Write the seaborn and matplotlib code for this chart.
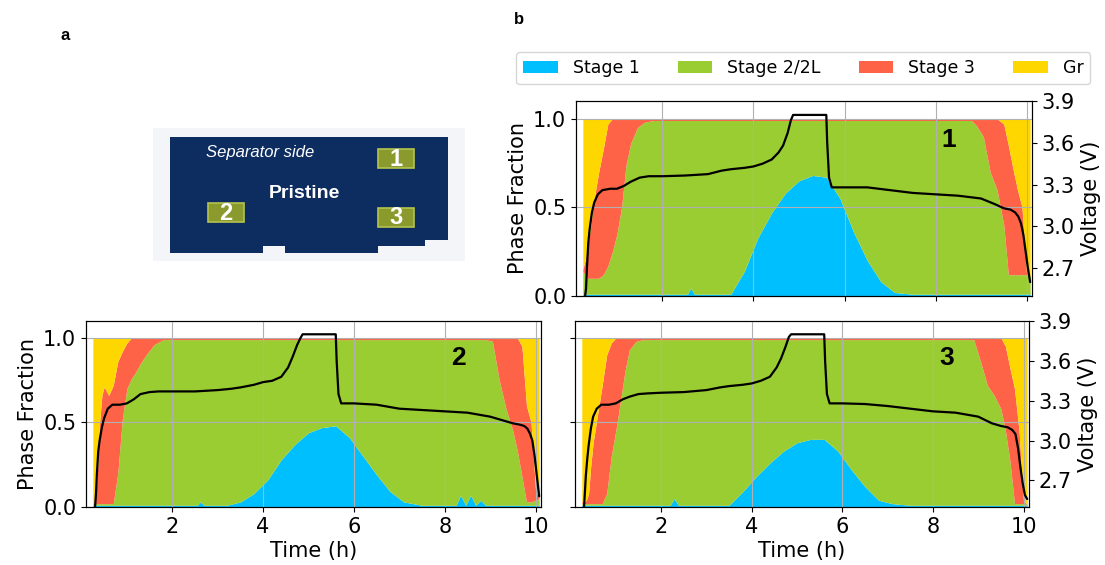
import matplotlib
matplotlib.use("Agg")
import matplotlib.pyplot as plt
from matplotlib.patches import Rectangle, Polygon
import seaborn as sns

# ---- data -------------------------------------------------------------
# time grid of the phase fractions (h)
t_phase = [0.25, 0.30, 0.35, 0.40, 0.45, 0.50, 0.60, 0.70, 0.80, 0.90,
           1.00, 1.10, 1.20, 1.30, 1.45, 1.60, 1.80, 2.20, 2.29, 2.38,
           2.55, 2.62, 2.70, 3.20, 3.50, 3.80, 4.10, 4.40, 4.70, 5.00,
           5.30, 5.60, 5.90, 6.20, 6.50, 6.80, 7.10, 7.50, 8.25, 8.35,
           8.46, 8.57, 8.68, 8.79, 8.90, 9.05, 9.20, 9.35, 9.50, 9.60,
           9.70, 9.80, 9.90, 10.00, 10.08]

stage_names = ["Stage 1", "Stage 2/2L", "Stage 3", "Gr"]
stage_colors = ["deepskyblue", "yellowgreen", "tomato", "gold"]

# position 1
stage1_p1 = [0.01, 0.01, 0.01, 0.01, 0.01, 0.01, 0.01, 0.01, 0.01, 0.01,
             0.01, 0.01, 0.01, 0.01, 0.01, 0.01, 0.01, 0.01, 0.01, 0.01,
             0.01, 0.045, 0.01, 0.01, 0.01, 0.14, 0.33, 0.47, 0.58, 0.65,
             0.68, 0.67, 0.55, 0.36, 0.20, 0.08, 0.02, 0.01, 0.01, 0.01,
             0.01, 0.01, 0.01, 0.01, 0.01, 0.01, 0.01, 0.01, 0.01, 0.01,
             0.01, 0.01, 0.01, 0.01, 0.01]
stage2_p1 = [0.13, 0.11, 0.09, 0.09, 0.09, 0.09, 0.09, 0.11, 0.16, 0.24,
             0.34, 0.49, 0.73, 0.85, 0.94, 0.97, 0.98, 0.98, 0.98, 0.98,
             0.98, 0.945, 0.98, 0.98, 0.98, 0.85, 0.66, 0.52, 0.41, 0.34,
             0.31, 0.32, 0.44, 0.63, 0.79, 0.91, 0.97, 0.98, 0.98, 0.98,
             0.98, 0.98, 0.98, 0.98, 0.95, 0.89, 0.69, 0.59, 0.39, 0.11,
             0.11, 0.11, 0.11, 0.11, 0.10]
stage3_p1 = [0.01, 0.08, 0.17, 0.25, 0.35, 0.45, 0.60, 0.71, 0.80, 0.75,
             0.65, 0.50, 0.26, 0.14, 0.05, 0.02, 0.01, 0.01, 0.01, 0.01,
             0.01, 0.01, 0.01, 0.01, 0.01, 0.01, 0.01, 0.01, 0.01, 0.01,
             0.01, 0.01, 0.01, 0.01, 0.01, 0.01, 0.01, 0.01, 0.01, 0.01,
             0.01, 0.01, 0.01, 0.01, 0.04, 0.10, 0.30, 0.40, 0.57, 0.73,
             0.60, 0.48, 0.38, 0.01, 0.00]
gr_p1 = [0.85, 0.80, 0.73, 0.65, 0.55, 0.45, 0.30, 0.17, 0.03, 0.00,
         0.00, 0.00, 0.00, 0.00, 0.00, 0.00, 0.00, 0.00, 0.00, 0.00,
         0.00, 0.00, 0.00, 0.00, 0.00, 0.00, 0.00, 0.00, 0.00, 0.00,
         0.00, 0.00, 0.00, 0.00, 0.00, 0.00, 0.00, 0.00, 0.00, 0.00,
         0.00, 0.00, 0.00, 0.00, 0.00, 0.00, 0.00, 0.00, 0.03, 0.15,
         0.28, 0.40, 0.50, 0.87, 0.89]

# position 2
stage1_p2 = [0.01, 0.01, 0.01, 0.01, 0.01, 0.01, 0.01, 0.01, 0.01, 0.01,
             0.01, 0.01, 0.01, 0.01, 0.01, 0.01, 0.01, 0.01, 0.01, 0.01,
             0.01, 0.03, 0.01, 0.01, 0.03, 0.08, 0.16, 0.28, 0.37, 0.44,
             0.47, 0.48, 0.41, 0.30, 0.19, 0.09, 0.03, 0.01, 0.01, 0.07,
             0.01, 0.07, 0.01, 0.04, 0.01, 0.01, 0.01, 0.01, 0.01, 0.01,
             0.01, 0.01, 0.01, 0.01, 0.01]
stage2_p2 = [0.01, 0.01, 0.01, 0.01, 0.01, 0.01, 0.01, 0.01, 0.19, 0.51,
             0.69, 0.75, 0.79, 0.84, 0.90, 0.95, 0.98, 0.98, 0.98, 0.98,
             0.98, 0.96, 0.98, 0.98, 0.96, 0.91, 0.83, 0.71, 0.62, 0.55,
             0.52, 0.51, 0.58, 0.69, 0.80, 0.90, 0.96, 0.98, 0.98, 0.92,
             0.98, 0.92, 0.98, 0.95, 0.98, 0.97, 0.74, 0.57, 0.44, 0.32,
             0.17, 0.02, 0.02, 0.03, 0.04]
stage3_p2 = [0.00, 0.01, 0.18, 0.48, 0.64, 0.69, 0.64, 0.70, 0.66, 0.40,
             0.27, 0.24, 0.20, 0.15, 0.09, 0.04, 0.01, 0.01, 0.01, 0.01,
             0.01, 0.01, 0.01, 0.01, 0.01, 0.01, 0.01, 0.01, 0.01, 0.01,
             0.01, 0.01, 0.01, 0.01, 0.01, 0.01, 0.01, 0.01, 0.01, 0.01,
             0.01, 0.01, 0.01, 0.01, 0.01, 0.02, 0.25, 0.42, 0.55, 0.67,
             0.77, 0.57, 0.47, 0.06, 0.00]
gr_p2 = [0.98, 0.97, 0.80, 0.50, 0.34, 0.29, 0.34, 0.28, 0.14, 0.08,
         0.03, 0.00, 0.00, 0.00, 0.00, 0.00, 0.00, 0.00, 0.00, 0.00,
         0.00, 0.00, 0.00, 0.00, 0.00, 0.00, 0.00, 0.00, 0.00, 0.00,
         0.00, 0.00, 0.00, 0.00, 0.00, 0.00, 0.00, 0.00, 0.00, 0.00,
         0.00, 0.00, 0.00, 0.00, 0.00, 0.00, 0.00, 0.00, 0.00, 0.00,
         0.05, 0.40, 0.50, 0.90, 0.95]

# position 3
stage1_p3 = [0.01, 0.01, 0.01, 0.01, 0.01, 0.01, 0.01, 0.01, 0.01, 0.01,
             0.01, 0.01, 0.01, 0.01, 0.01, 0.01, 0.01, 0.01, 0.05, 0.01,
             0.01, 0.01, 0.01, 0.01, 0.01, 0.09, 0.18, 0.26, 0.33, 0.38,
             0.40, 0.40, 0.33, 0.22, 0.12, 0.04, 0.02, 0.01, 0.01, 0.01,
             0.01, 0.01, 0.01, 0.01, 0.01, 0.01, 0.01, 0.01, 0.01, 0.01,
             0.01, 0.01, 0.01, 0.01, 0.01]
stage2_p3 = [0.01, 0.01, 0.01, 0.01, 0.01, 0.01, 0.01, 0.01, 0.07, 0.29,
             0.44, 0.61, 0.79, 0.92, 0.97, 0.98, 0.98, 0.98, 0.94, 0.98,
             0.98, 0.98, 0.98, 0.98, 0.98, 0.90, 0.81, 0.73, 0.66, 0.61,
             0.59, 0.59, 0.66, 0.77, 0.87, 0.95, 0.97, 0.98, 0.98, 0.98,
             0.98, 0.98, 0.98, 0.98, 0.98, 0.85, 0.71, 0.65, 0.57, 0.44,
             0.26, 0.01, 0.01, 0.01, 0.01]
stage3_p3 = [0.01, 0.01, 0.02, 0.06, 0.23, 0.36, 0.53, 0.70, 0.82, 0.67,
             0.55, 0.38, 0.20, 0.07, 0.02, 0.01, 0.01, 0.01, 0.01, 0.01,
             0.01, 0.01, 0.01, 0.01, 0.01, 0.01, 0.01, 0.01, 0.01, 0.01,
             0.01, 0.01, 0.01, 0.01, 0.01, 0.01, 0.01, 0.01, 0.01, 0.01,
             0.01, 0.01, 0.01, 0.01, 0.01, 0.14, 0.28, 0.34, 0.42, 0.50,
             0.55, 0.68, 0.43, 0.01, 0.00]
gr_p3 = [0.97, 0.97, 0.96, 0.92, 0.75, 0.62, 0.45, 0.28, 0.10, 0.03,
         0.00, 0.00, 0.00, 0.00, 0.00, 0.00, 0.00, 0.00, 0.00, 0.00,
         0.00, 0.00, 0.00, 0.00, 0.00, 0.00, 0.00, 0.00, 0.00, 0.00,
         0.00, 0.00, 0.00, 0.00, 0.00, 0.00, 0.00, 0.00, 0.00, 0.00,
         0.00, 0.00, 0.00, 0.00, 0.00, 0.00, 0.00, 0.00, 0.00, 0.05,
         0.18, 0.30, 0.55, 0.97, 0.98]

# voltage profiles (h, V)
t_volt = [0.30, 0.32, 0.34, 0.37, 0.40, 0.45, 0.50, 0.58, 0.68, 0.85,
          1.00, 1.15, 1.30, 1.50, 1.70, 2.00, 2.50, 3.00, 3.30, 3.50,
          3.80, 4.00, 4.20, 4.40, 4.55, 4.65, 4.75, 4.82, 4.87, 5.60,
          5.62, 5.66, 5.72, 6.00, 6.50, 7.00, 7.50, 8.00, 8.50, 9.00,
          9.30, 9.50, 9.65, 9.75, 9.82, 9.88, 9.93, 9.98, 10.03, 10.08]
volt_p1 = [2.50, 2.55, 2.70, 2.88, 2.98, 3.10, 3.17, 3.23, 3.26, 3.27,
           3.27, 3.29, 3.32, 3.35, 3.36, 3.36, 3.365, 3.375, 3.40, 3.41,
           3.42, 3.43, 3.45, 3.48, 3.53, 3.58, 3.67, 3.76, 3.80, 3.80,
           3.60, 3.35, 3.28, 3.28, 3.28, 3.26, 3.24, 3.23, 3.22, 3.20,
           3.16, 3.13, 3.12, 3.10, 3.07, 3.02, 2.94, 2.82, 2.70, 2.60]
volt_p2 = [2.50, 2.60, 2.75, 2.92, 3.00, 3.10, 3.17, 3.24, 3.27, 3.27,
           3.28, 3.31, 3.35, 3.365, 3.37, 3.37, 3.37, 3.38, 3.39, 3.40,
           3.42, 3.44, 3.45, 3.48, 3.55, 3.63, 3.72, 3.77, 3.80, 3.80,
           3.60, 3.35, 3.28, 3.28, 3.27, 3.24, 3.23, 3.22, 3.21, 3.18,
           3.15, 3.13, 3.12, 3.11, 3.09, 3.05, 3.00, 2.88, 2.73, 2.58]
volt_p3 = [2.50, 2.62, 2.74, 2.86, 2.96, 3.09, 3.18, 3.24, 3.27, 3.27,
           3.28, 3.31, 3.33, 3.35, 3.355, 3.36, 3.365, 3.38, 3.40, 3.41,
           3.42, 3.43, 3.45, 3.48, 3.55, 3.62, 3.71, 3.78, 3.80, 3.80,
           3.60, 3.35, 3.28, 3.28, 3.275, 3.26, 3.24, 3.22, 3.21, 3.18,
           3.13, 3.11, 3.10, 3.08, 3.05, 2.94, 2.80, 2.68, 2.59, 2.56]

# ---- style ------------------------------------------------------------
sns.set_style("ticks")
plt.rcParams["font.family"] = ["DejaVu Sans"]
plt.rcParams["axes.edgecolor"] = "black"
plt.rcParams["xtick.color"] = "black"
plt.rcParams["ytick.color"] = "black"
plt.rcParams["text.color"] = "black"
plt.rcParams["axes.labelcolor"] = "black"

W, H = 1105, 565
fig = plt.figure(figsize=(W / 100, H / 100), dpi=100)

# ---- panel a: schematic (figure pixel coords) -------------------------
bg = fig.add_axes([0, 0, 1, 1])
bg.set_xlim(0, W)
bg.set_ylim(H, 0)
bg.axis("off")

navy = "#0d2c5f"
bg.add_patch(Rectangle((153, 128), 312, 133, color="#f3f5f9", lw=0))
bg.add_patch(Polygon([(170, 137), (448, 137), (448, 240), (425, 240), (425, 246),
                      (378, 246), (378, 253), (285, 253), (285, 246), (263, 246),
                      (263, 253), (170, 253)], closed=True, color=navy, lw=0))
for (x0, y0, lab) in [(378, 149, "1"), (208, 203, "2"), (378, 208, "3")]:
    bg.add_patch(Rectangle((x0, y0), 36, 19, facecolor="#8b9a2c",
                           edgecolor="#b4c44e", lw=1.2))
    bg.text(x0 + 18, y0 + 10, lab, color="white", fontsize=17, fontweight="bold",
            family="Liberation Sans", ha="center", va="center")
bg.text(260, 152, "Separator side", color="white", fontsize=12, style="italic",
        family="Liberation Sans", ha="center", va="center")
bg.text(304, 193, "Pristine", color="white", fontsize=14, fontweight="bold",
        family="Liberation Sans", ha="center", va="center")
bg.text(65, 35, "a", fontsize=12, fontweight="bold", family="Liberation Sans",
        ha="center", va="center")
bg.text(519, 20, "b", fontsize=12, fontweight="bold", family="Liberation Sans",
        ha="center", va="center")


def px_rect(left, right, top, bottom):
    return [left / W, 1 - bottom / H, (right - left) / W, (bottom - top) / H]


def draw_panel(rect, fractions, volt, tag, show_left, show_bottom, show_right):
    ax = fig.add_axes(rect)
    ax.stackplot(t_phase, *fractions, colors=stage_colors, labels=stage_names,
                 linewidth=0)
    ax.set_xlim(0.1, 10.12)
    ax.set_ylim(0, 1.1)
    ax.set_xticks([2, 4, 6, 8, 10])
    ax.set_yticks([0.0, 0.5, 1.0])
    ax.grid(True, color="#b0b0b0", lw=0.8)
    ax.set_axisbelow(False)
    ax.tick_params(labelsize=15, labelleft=show_left, labelbottom=show_bottom)
    if show_left:
        ax.set_ylabel("Phase Fraction", fontsize=15)
    if show_bottom:
        ax.set_xlabel("Time (h)", fontsize=15, labelpad=3)
    ax.text(8.3, 0.88, tag, fontsize=19, fontweight="bold", family="Liberation Sans",
            ha="center", va="center")

    ax2 = ax.twinx()
    sns.lineplot(x=t_volt, y=volt, ax=ax2, color="black", lw=1.6)
    ax2.set_xlim(0.1, 10.12)
    ax2.set_ylim(2.5, 3.9)
    if show_right:
        ax2.set_yticks([2.7, 3.0, 3.3, 3.6, 3.9])
        ax2.tick_params(labelsize=15)
        ax2.set_ylabel("Voltage (V)", fontsize=15)
    else:
        ax2.set_yticks([])
        ax2.set_ylabel("")
    return ax


ax1 = draw_panel(px_rect(576, 1032, 101, 296),
                 [stage1_p1, stage2_p1, stage3_p1, gr_p1], volt_p1, "1",
                 True, False, True)
draw_panel(px_rect(86, 541, 321, 507),
           [stage1_p2, stage2_p2, stage3_p2, gr_p2], volt_p2, "2",
           True, True, False)
draw_panel(px_rect(575, 1029, 321, 507),
           [stage1_p3, stage2_p3, stage3_p3, gr_p3], volt_p3, "3",
           False, True, True)

handles, labels = ax1.get_legend_handles_labels()
fig.legend(handles, labels, loc="center", bbox_to_anchor=(0.727, 0.879),
           ncol=4, fontsize=12.5, frameon=True, columnspacing=2.2,
           handletextpad=0.85)

fig.savefig("out.png", dpi=100)
